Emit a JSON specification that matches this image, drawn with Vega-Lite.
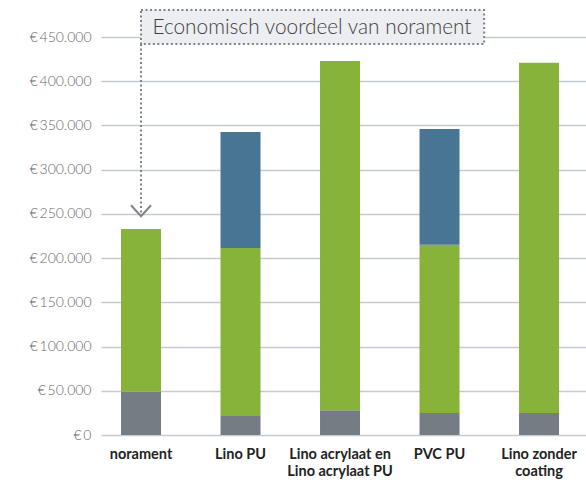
{
  "$schema": "https://vega.github.io/schema/vega-lite/v6.json",
  "autosize": {"type": "none"},
  "padding": {"left": 101, "top": 37, "right": 0, "bottom": 49},
  "width": 485,
  "height": 398,
  "config": {
    "view": {"stroke": null},
    "font": "Lato",
    "locale": {"number": {"decimal": ",", "thousands": ".", "grouping": [3], "currency": ["€", ""]}}
  },
  "resolve": {"scale": {"x": "independent"}, "axis": {"x": "independent"}},
  "layer": [
    {
      "data": {"values": [
        {"cat": "norament", "part": "basis", "order": 1, "value": 49000},
        {"cat": "norament", "part": "onderhoud", "order": 2, "value": 184000},
        {"cat": "Lino PU", "part": "basis", "order": 1, "value": 21500},
        {"cat": "Lino PU", "part": "onderhoud", "order": 2, "value": 190000},
        {"cat": "Lino PU", "part": "coating", "order": 3, "value": 131000},
        {"cat": "Lino acrylaat en|Lino acrylaat PU", "part": "basis", "order": 1, "value": 28000},
        {"cat": "Lino acrylaat en|Lino acrylaat PU", "part": "onderhoud", "order": 2, "value": 395000},
        {"cat": "PVC PU", "part": "basis", "order": 1, "value": 25000},
        {"cat": "PVC PU", "part": "onderhoud", "order": 2, "value": 190000},
        {"cat": "PVC PU", "part": "coating", "order": 3, "value": 131000},
        {"cat": "Lino zonder|coating", "part": "basis", "order": 1, "value": 25000},
        {"cat": "Lino zonder|coating", "part": "onderhoud", "order": 2, "value": 396000}
      ]},
      "mark": {"type": "bar"},
      "encoding": {
        "x": {
          "field": "cat", "type": "nominal",
          "sort": ["norament", "Lino PU", "Lino acrylaat en|Lino acrylaat PU", "PVC PU", "Lino zonder|coating"],
          "scale": {"paddingInner": 0.598, "paddingOuter": 0.236, "align": 0.426},
          "axis": {
            "title": null, "labelAngle": 0, "domain": false, "ticks": false,
            "labelExpr": "split(datum.label, '|')",
            "labelFontWeight": "bold", "labelFontSize": 14.5, "labelColor": "#222222",
            "labelPadding": 12, "labelLineHeight": 17, "labelBaseline": "top"
          }
        },
        "y": {
          "field": "value", "type": "quantitative", "stack": "zero",
          "scale": {"domain": [0, 450000], "nice": false},
          "axis": {
            "title": null, "domain": false, "ticks": false,
            "values": [0, 50000, 100000, 150000, 200000, 250000, 300000, 350000, 400000, 450000],
            "labelExpr": "'€\u2009' + format(datum.value, ',.0f')",
            "labelFontSize": 14, "labelColor": "#666666", "labelFontWeight": 300,
            "labelPadding": 10,
            "gridColor": "#c5cad0", "gridWidth": 1.5
          }
        },
        "color": {
          "field": "part", "type": "nominal", "legend": null,
          "scale": {"domain": ["basis", "onderhoud", "coating"], "range": ["#767c84", "#88b33b", "#487594"]}
        },
        "order": {"field": "order", "type": "quantitative"}
      }
    },
    {
      "data": {"values": [{"x": 0.0825, "x2": 0.79, "y": 442000, "y2": 480500}]},
      "mark": {"type": "rect", "fill": "#eceef1", "stroke": "#7d838a", "strokeWidth": 2, "strokeDash": [2, 2.5]},
      "encoding": {
        "x": {"field": "x", "type": "quantitative", "scale": {"domain": [0, 1], "nice": false, "zero": false}, "axis": null},
        "x2": {"field": "x2"},
        "y": {"field": "y", "type": "quantitative"},
        "y2": {"field": "y2"}
      }
    },
    {
      "data": {"values": [{"x": 0.0825, "y": 442000, "y2": 249000}]},
      "mark": {"type": "rule", "color": "#7d838a", "strokeWidth": 2, "strokeDash": [2, 2.5]},
      "encoding": {
        "x": {"field": "x", "type": "quantitative", "scale": {"domain": [0, 1], "nice": false, "zero": false}, "axis": null},
        "y": {"field": "y", "type": "quantitative"},
        "y2": {"field": "y2"}
      }
    },
    {
      "data": {"values": [{"x": 0.0825, "y": 253500}]},
      "mark": {"type": "point", "shape": "M-1,-0.55L0,0.55L1,-0.55", "filled": false, "size": 400, "stroke": "#7d838a", "strokeWidth": 2, "opacity": 1},
      "encoding": {
        "x": {"field": "x", "type": "quantitative", "scale": {"domain": [0, 1], "nice": false, "zero": false}, "axis": null},
        "y": {"field": "y", "type": "quantitative"}
      }
    },
    {
      "data": {"values": [{"x": 0.106, "y": 460500, "label": "Economisch voordeel van norament"}]},
      "mark": {"type": "text", "align": "left", "baseline": "middle", "fontSize": 20.8, "fontWeight": 300, "color": "#3f3f3f"},
      "encoding": {
        "x": {"field": "x", "type": "quantitative", "scale": {"domain": [0, 1], "nice": false, "zero": false}, "axis": null},
        "y": {"field": "y", "type": "quantitative"},
        "text": {"field": "label"}
      }
    }
  ]
}
